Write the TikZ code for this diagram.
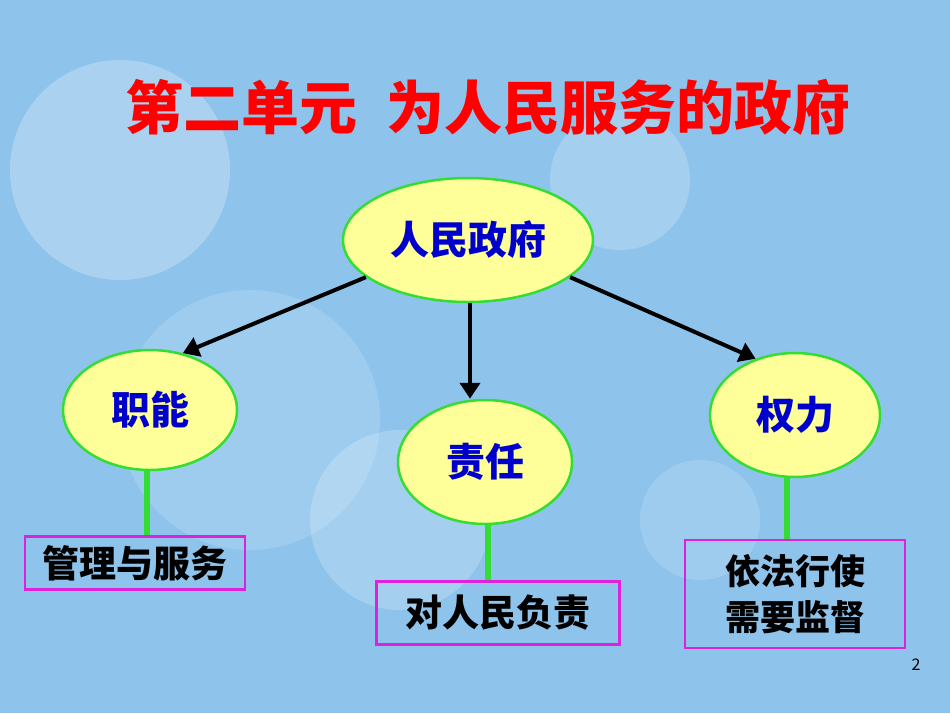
\documentclass[tikz,border=0pt]{standalone}
\usepackage{fontspec}
\setmainfont{Noto Sans CJK SC}
\usetikzlibrary{shapes.geometric,arrows.meta}
\definecolor{bg}{HTML}{8EC4EC}
\definecolor{ell}{HTML}{FFFF99}
\definecolor{eb}{HTML}{33DD33}
\definecolor{mg}{HTML}{DD22DD}
\tikzset{
 el/.style={ellipse,draw=eb,line width=2.5pt,fill=ell,text=blue!80!black,font=\fontsize{39}{42}\selectfont\bfseries},
 bx/.style={draw=mg,line width=2.5pt,font=\fontsize{37}{46}\selectfont\bfseries,align=center,inner sep=0pt},
 ar/.style={line width=4pt,-{Triangle[length=16pt,width=20pt]}},
 gl/.style={eb,line width=6pt}
}
\begin{document}
\begin{tikzpicture}[x=1pt,y=-1pt]
\fill[bg] (0,0) rectangle (950,713);
\fill[white,opacity=0.25] (120,170) circle (110);
\fill[white,opacity=0.2] (400,520) circle (90);
\fill[white,opacity=0.2] (620,180) circle (70);
\fill[white,opacity=0.15] (250,420) circle (130);
\fill[white,opacity=0.15] (700,520) circle (60);
\node[text=red,font=\fontsize{58}{62}\selectfont\bfseries] (t) at (488,107) {第二单元\hspace{0.5em}为人民服务的政府};
\node[el,minimum width=250pt,minimum height=124pt] (a) at (468,240) {人民政府};
\node[el,minimum width=174pt,minimum height=120pt] (b) at (150,410) {职能};
\node[el,minimum width=174pt,minimum height=124pt] (c) at (485,462) {责任};
\node[el,minimum width=170pt,minimum height=124pt] (d) at (795,415) {权力};
\draw[ar] (a.200) -- (b.60);
\draw[ar] (a.south -| 470,0) -- (c.north -| 470,0);
\draw[ar] (a.-20) -- (d.125);
\node[bx,minimum width=220pt,minimum height=53pt] (e) at (135,563) {管理与服务};
\node[bx,minimum width=243pt,minimum height=63pt] (f) at (498,613) {对人民负责};
\node[bx,minimum width=220pt,minimum height=108pt,font=\fontsize{35}{46}\selectfont\bfseries] (g) at (795,594) {依法行使\\需要监督};
\draw[gl] (b.south -| 147,0) -- (e.north -| 147,0);
\draw[gl] (c.south -| 488,0) -- (f.north -| 488,0);
\draw[gl] (d.south -| 787,0) -- (g.north -| 787,0);
\node[font=\fontsize{16}{18}\selectfont] (p) at (916,665) {2};
\end{tikzpicture}
\end{document}
